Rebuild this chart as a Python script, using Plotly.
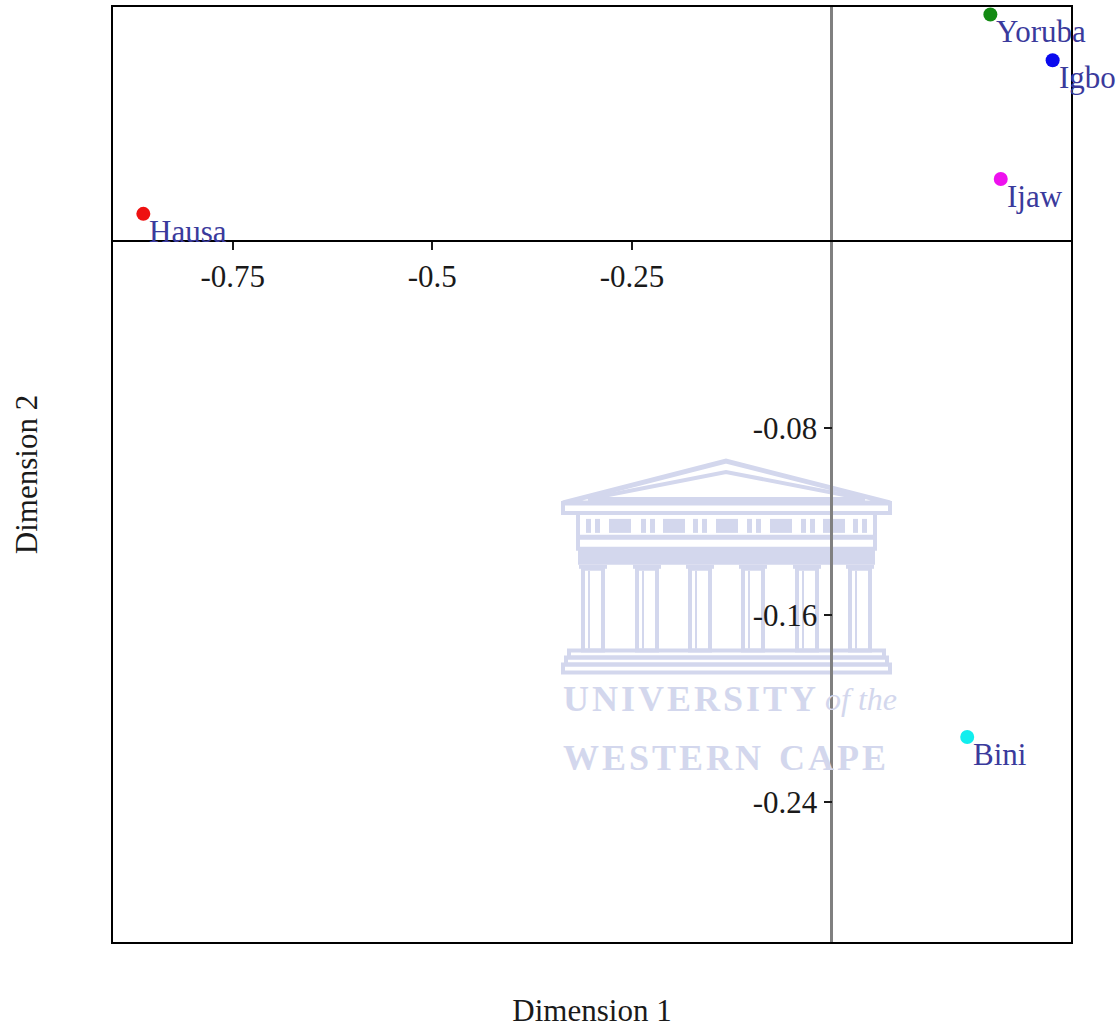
import plotly.graph_objects as go

# Ethnic groups and their coordinates on the two scaling dimensions
groups = ["Hausa", "Yoruba", "Igbo", "Ijaw", "Bini"]
dim1 = [-0.862, 0.199, 0.277, 0.212, 0.170]
dim2 = [0.0115, 0.0968, 0.0772, 0.0264, -0.2123]
point_colors = ["#ee1111", "#138a13", "#0a0aee", "#ee11ee", "#11eeee"]

# Tick positions shown on the axes that cross at the origin
x_ticks = [-0.75, -0.5, -0.25]
x_tick_text = ["-0.75", "-0.5", "-0.25"]
y_ticks = [-0.08, -0.16, -0.24]
y_tick_text = ["-0.08", "-0.16", "-0.24"]

X_RANGE = [-0.9, 0.3]
Y_RANGE = [-0.3, 0.1]

SERIF = "Liberation Serif, Times New Roman, serif"
LABEL_BLUE = "#3a3a9c"
WM = "#d3d7ed"

fig = go.Figure()

fig.add_trace(go.Scatter(
    x=dim1, y=dim2, text=groups,
    mode="markers",
    marker=dict(size=14, color=point_colors, line=dict(width=0)),
    cliponaxis=False,
    showlegend=False,
    hoverinfo="x+y+text",
))

# Empty traces so the crossing axes through the origin get their own subplots
fig.add_trace(go.Scatter(x=[], y=[], xaxis="x2", yaxis="y", showlegend=False))
fig.add_trace(go.Scatter(x=[], y=[], xaxis="x", yaxis="y2", showlegend=False))

# Where the origin falls inside the plotting area (domain fractions)
x_origin_pos = (0 - Y_RANGE[0]) / (Y_RANGE[1] - Y_RANGE[0])
y_origin_pos = (0 - X_RANGE[0]) / (X_RANGE[1] - X_RANGE[0])

tick_font = dict(family=SERIF, size=31, color="#1a1a1a")
title_font = dict(family=SERIF, size=31, color="#1a1a1a")

# ---- faint university crest behind the data (one unit = one pixel of the plot area) ----
PLOT_W, PLOT_H = 958, 937
LOGO_X0, LOGO_Y0 = 450 / PLOT_W, 1 - 455 / PLOT_H


def lx(u):
    return LOGO_X0 + u / PLOT_W


def ly(v):
    return LOGO_Y0 - v / PLOT_H


shapes = []


def outline_rect(u0, v0, u1, v1, w=3):
    shapes.append(dict(type="rect", xref="paper", yref="paper", layer="below",
                       x0=lx(u0), x1=lx(u1), y0=ly(v0), y1=ly(v1),
                       line=dict(color=WM, width=w), fillcolor="rgba(0,0,0,0)"))


def solid_rect(u0, v0, u1, v1):
    shapes.append(dict(type="rect", xref="paper", yref="paper", layer="below",
                       x0=lx(u0), x1=lx(u1), y0=ly(v0), y1=ly(v1),
                       line=dict(width=0), fillcolor=WM))


def poly(points, w=3):
    path = "M " + " L ".join(f"{lx(u)},{ly(v)}" for u, v in points) + " Z"
    shapes.append(dict(type="path", xref="paper", yref="paper", layer="below",
                       path=path, line=dict(color=WM, width=w)))


# pediment
poly([(0, 42), (163, 0), (327, 42)], w=5)
poly([(25, 38), (163, 11), (302, 38)], w=4)
outline_rect(0, 42, 327, 52, w=4)
# frieze with triglyphs and metopes
outline_rect(15, 52, 312, 76, w=4)
for c in [30, 85, 137, 191, 245, 297]:
    solid_rect(c - 7, 58, c - 2, 72)
    solid_rect(c + 2, 58, c + 7, 72)
for c in [57, 111, 164, 218, 271]:
    solid_rect(c - 11, 58, c + 11, 72)
# architrave and band
outline_rect(15, 77, 312, 88, w=4)
solid_rect(15, 88, 312, 104)
# columns
for c in [30, 84, 137, 190, 244, 297]:
    solid_rect(c - 14, 104, c + 14, 108)
    outline_rect(c - 10, 108, c + 10, 190, w=4)
    shapes.append(dict(type="line", xref="paper", yref="paper", layer="below",
                       x0=lx(c - 4), x1=lx(c - 4), y0=ly(110), y1=ly(188),
                       line=dict(color=WM, width=2)))
# steps
outline_rect(6, 190, 321, 197, w=4)
outline_rect(3, 197, 324, 204, w=4)
outline_rect(0, 204, 327, 212, w=4)

HS = "\u200a"
annotations = [
    dict(xref="paper", yref="paper", x=lx(-2), y=ly(238), xanchor="left", yanchor="middle",
         text="<b>" + HS.join("UNIVERSITY") + "</b>", showarrow=False,
         font=dict(family=SERIF, size=36, color=WM)),
    dict(xref="paper", yref="paper", x=lx(260), y=ly(238), xanchor="left", yanchor="middle",
         text="<i>of the</i>", showarrow=False,
         font=dict(family=SERIF, size=32, color=WM)),
    dict(xref="paper", yref="paper", x=lx(-2), y=ly(298), xanchor="left", yanchor="middle",
         text="<b>" + HS.join("WESTERN") + "  " + HS.join("CAPE") + "</b>", showarrow=False,
         font=dict(family=SERIF, size=36, color=WM)),
]

# Group names set just below and to the right of each point
for name, xv, yv in zip(groups, dim1, dim2):
    annotations.append(dict(
        x=xv, y=yv, xref="x", yref="y", text=name, showarrow=False,
        xanchor="left", yanchor="top", xshift=4, yshift=2,
        font=dict(family=SERIF, size=31, color=LABEL_BLUE),
    ))

fig.update_layout(
    width=1120, height=1028,
    margin=dict(l=113, r=49, t=5, b=86),
    paper_bgcolor="white", plot_bgcolor="white",
    shapes=shapes,
    annotations=annotations,
    xaxis=dict(
        range=X_RANGE, showgrid=False, showticklabels=False, ticks="",
        zeroline=True, zerolinecolor="#808080", zerolinewidth=3,
        showline=True, mirror=True, linecolor="black", linewidth=2,
        title=dict(text="Dimension 1", font=title_font, standoff=58),
    ),
    yaxis=dict(
        range=Y_RANGE, showgrid=False, showticklabels=False, ticks="",
        zeroline=True, zerolinecolor="black", zerolinewidth=1.5,
        showline=True, mirror=True, linecolor="black", linewidth=2,
        title=dict(text="Dimension 2", font=title_font, standoff=64),
    ),
    xaxis2=dict(
        range=X_RANGE, overlaying="x", anchor="free", position=x_origin_pos, side="bottom",
        showgrid=False, zeroline=False, showline=False,
        tickmode="array", tickvals=x_ticks, ticktext=x_tick_text,
        ticks="outside", ticklen=8, tickwidth=1.5, tickcolor="#1a1a1a",
        tickfont=tick_font,
    ),
    yaxis2=dict(
        range=Y_RANGE, overlaying="y", anchor="free", position=y_origin_pos, side="left",
        showgrid=False, zeroline=False, showline=False,
        tickmode="array", tickvals=y_ticks, ticktext=y_tick_text,
        ticks="outside", ticklen=8, tickwidth=1.5, tickcolor="#1a1a1a",
        tickfont=tick_font,
    ),
)

fig.write_html("out.html")
